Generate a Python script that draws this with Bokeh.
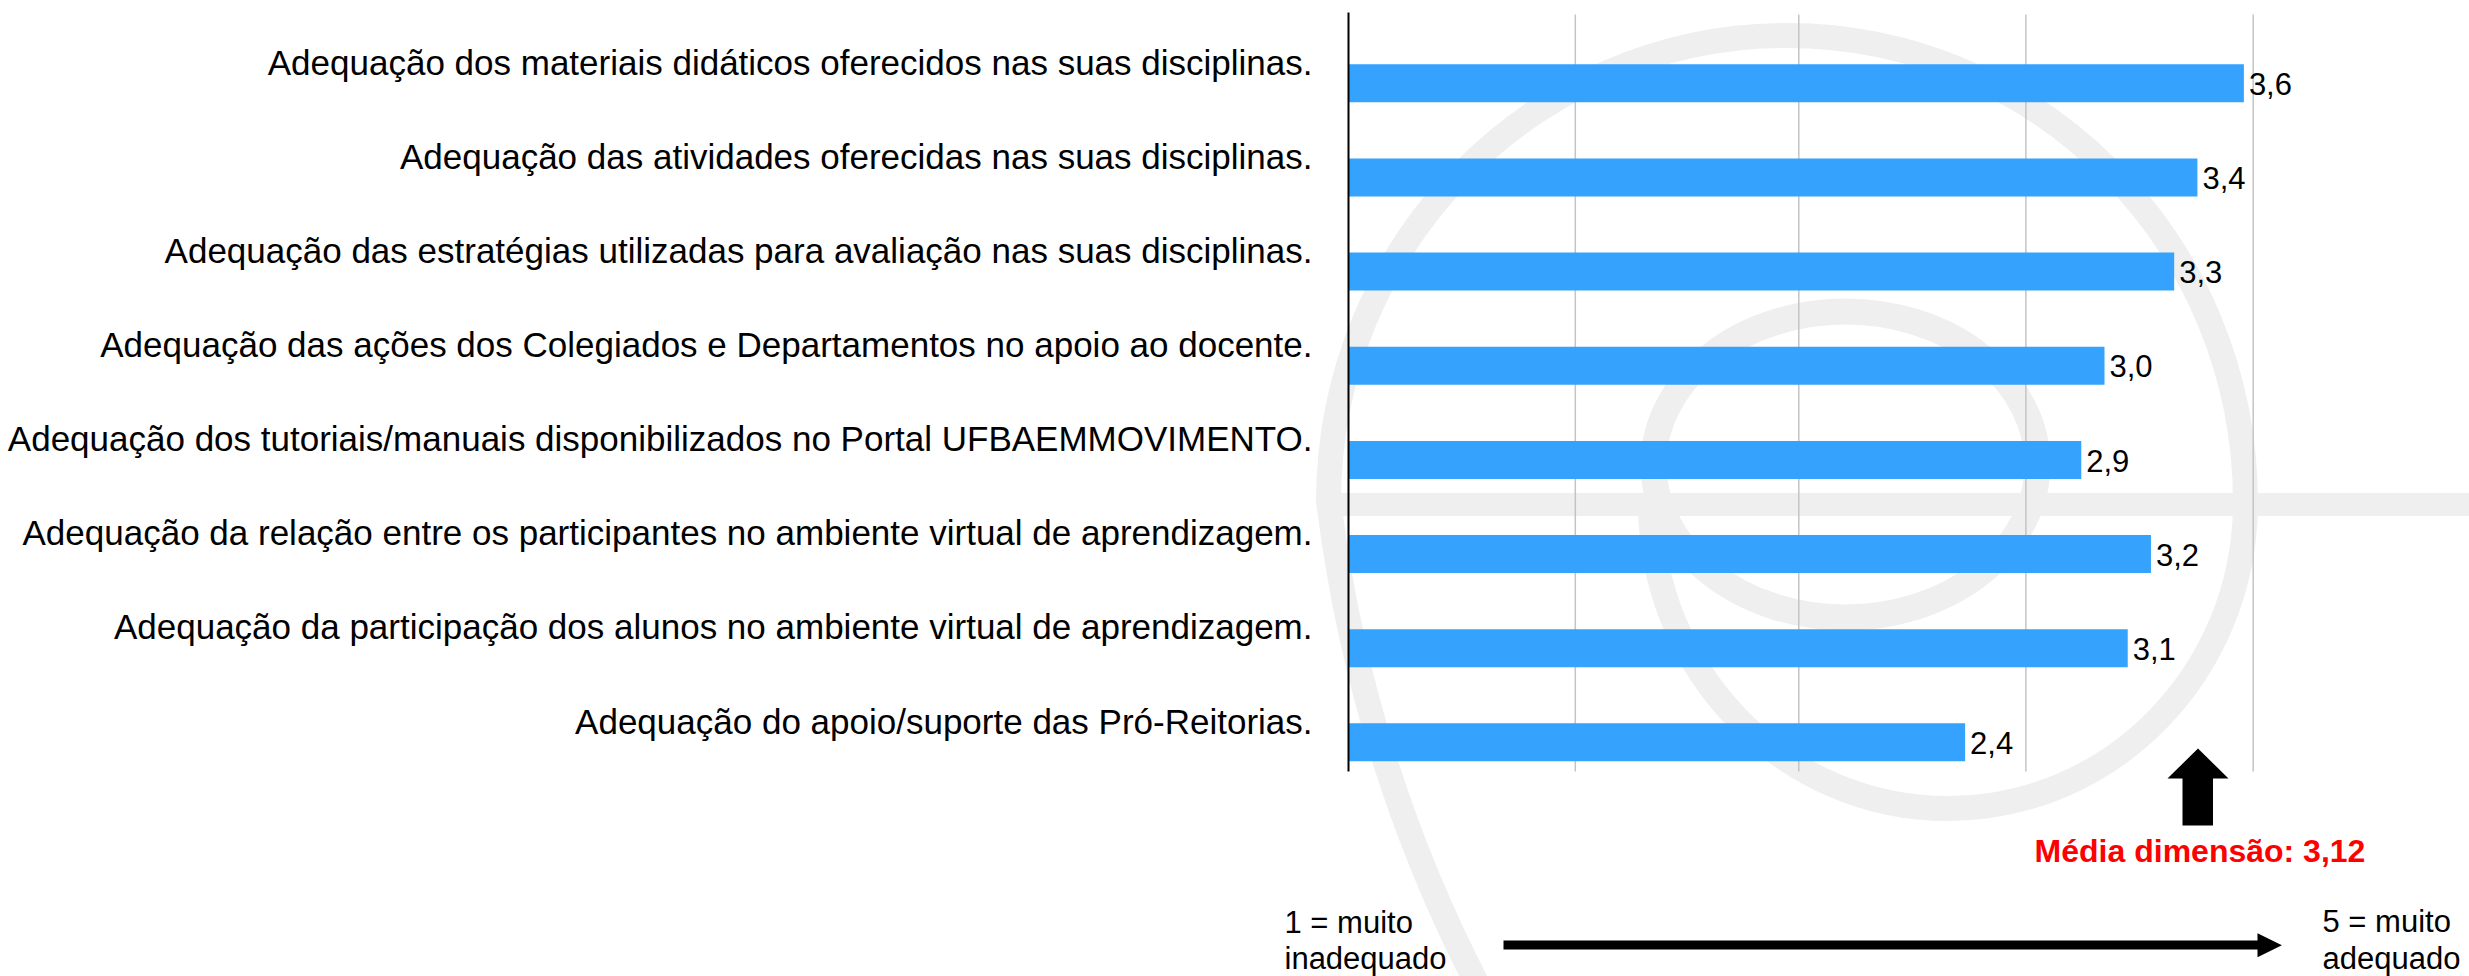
from bokeh.plotting import figure
from bokeh.models import Range1d, ColumnDataSource
from bokeh.embed import file_html
from bokeh.resources import INLINE
from bokeh.core.properties import value

# ---------------- data ----------------
categories = [
    "Adequação dos materiais didáticos oferecidos nas suas disciplinas.",
    "Adequação das atividades oferecidas nas suas disciplinas.",
    "Adequação das estratégias utilizadas para avaliação nas suas disciplinas.",
    "Adequação das ações dos Colegiados e Departamentos no apoio ao docente.",
    "Adequação dos tutoriais/manuais disponibilizados no Portal UFBAEMMOVIMENTO.",
    "Adequação da relação entre os participantes no ambiente virtual de aprendizagem.",
    "Adequação da participação dos alunos no ambiente virtual de aprendizagem.",
    "Adequação do apoio/suporte das Pró-Reitorias.",
]
scores = [3.6, 3.4, 3.3, 3.0, 2.9, 3.2, 3.1, 2.4]
score_labels = ["3,6", "3,4", "3,3", "3,0", "2,9", "3,2", "3,1", "2,4"]
mean_label = "Média dimensão: 3,12"
scale_low = ["1 = muito", "inadequado"]
scale_high = ["5 = muito", "adequado"]

# ---------------- layout (page pixels -> data) ----------------
W, H, MARGIN = 2469, 976, 0
X0_PX, PX_X = 1407.1, 232.3      # page x of value 0, px per unit
Y0_PX, PX_Y = 741.8, 94.14       # page y of last row, px per row


def X(px):
    return (px - X0_PX) / PX_X


def Y(py):
    return (Y0_PX - py) / PX_Y


def dy(size):
    # baseline correction for the text layout
    return -0.38 * size


FONT = value("Liberation Sans")
BAR_COLOR = "#35a2fe"
WM = "#efefef"
AXIS_X = X(1348)
PLOT_TOP, PLOT_BOTTOM = 12, 771
GRID_PX = [1574.8, 1798.3, 2025.4, 2252.7]

p = figure(
    width=W, height=H,
    x_range=Range1d(X(MARGIN), X(MARGIN + W)),
    y_range=Range1d(Y(MARGIN + H), Y(MARGIN)),
    output_backend="svg", toolbar_location=None,
    x_axis_location=None, y_axis_location=None,
    min_border=0, outline_line_color=None,
)
p.xgrid.visible = False
p.ygrid.visible = False
p.background_fill_color = "white"

# ---------------- watermark ----------------
K = 0.5523


def half_ellipse(cx, cy, rx, ry, upper):
    s = -1 if upper else 1
    return [
        (cx - rx, cy, cx - rx, cy + s * K * ry, cx - K * rx, cy + s * ry, cx, cy + s * ry),
        (cx, cy + s * ry, cx + K * rx, cy + s * ry, cx + rx, cy + s * K * ry, cx + rx, cy),
    ]


curves = half_ellipse(1786.5, 502, 458.5, 467, True) + half_ellipse(1947.5, 502, 297.5, 306, False)
p.bezier(
    x0=[X(c[0]) for c in curves], y0=[Y(c[1]) for c in curves],
    cx0=[X(c[2]) for c in curves], cy0=[Y(c[3]) for c in curves],
    cx1=[X(c[4]) for c in curves], cy1=[Y(c[5]) for c in curves],
    x1=[X(c[6]) for c in curves], y1=[Y(c[7]) for c in curves],
    line_color=WM, line_width=25,
)
p.ellipse(x=[X(1845)], y=[Y(464)], width=[2 * 192 / PX_X], height=[2 * 153 / PX_Y],
          fill_color=None, line_color=WM, line_width=26)
p.quadratic(x0=[X(1328)], y0=[Y(500)], cx=[X(1360)], cy=[Y(760)], x1=[X(1480)], y1=[Y(990)],
            line_color=WM, line_width=25)
p.segment(x0=[X(1320)], y0=[Y(504)], x1=[X(2475)], y1=[Y(504)], line_color=WM, line_width=23)

# ---------------- grid & axis ----------------
p.segment(x0=[X(g) for g in GRID_PX], y0=[Y(PLOT_BOTTOM)] * len(GRID_PX),
          x1=[X(g) for g in GRID_PX], y1=[Y(14)] * len(GRID_PX),
          line_color="#c4c4c4", line_width=1.5)

# ---------------- bars ----------------
n = len(categories)
ypos = [n - 1 - i for i in range(n)]
src = ColumnDataSource(dict(y=ypos, score=scores, label=score_labels, cat=categories,
                            left=[AXIS_X] * n))
p.hbar(y="y", left="left", right="score", height=38 / PX_Y, source=src,
       fill_color=BAR_COLOR, line_color=None)

p.segment(x0=[AXIS_X], y0=[Y(PLOT_BOTTOM)], x1=[AXIS_X], y1=[Y(PLOT_TOP)],
          line_color="black", line_width=2)

p.text(x="score", y="y", text="label", source=src, x_offset=5, y_offset=12.5 + dy(31),
       text_align="left", text_baseline="alphabetic", text_font=FONT,
       text_font_size="31px", text_color="black")
p.text(x="left", y="y", text="cat", source=src, x_offset=-36, y_offset=-8 + dy(35),
       text_align="right", text_baseline="alphabetic", text_font=FONT,
       text_font_size="35px", text_color="black")

# ---------------- mean marker ----------------
up_arrow = [(2182, 825), (2182, 778), (2167, 778), (2197.5, 748), (2228, 778),
            (2212.5, 778), (2212.5, 825)]
p.patch(x=[X(a) for a, b in up_arrow], y=[Y(b) for a, b in up_arrow],
        fill_color="black", line_color=None)
p.text(x=[X(2199.5)], y=[Y(862.7)], y_offset=dy(32), text=[mean_label], text_align="center",
       text_baseline="alphabetic", text_font=FONT, text_font_size="32px",
       text_font_style="bold", text_color="#ff0000")

# ---------------- scale arrow ----------------
right_arrow = [(1503, 940), (2257, 940), (2257, 932.7), (2281.4, 944.7), (2257, 956.7),
               (2257, 949), (1503, 949)]
p.patch(x=[X(a) for a, b in right_arrow], y=[Y(b) for a, b in right_arrow],
        fill_color="black", line_color=None)
p.text(x=[X(1284)] * 2, y=[Y(934), Y(970)], y_offset=dy(31), text=scale_low, text_align="left",
       text_baseline="alphabetic", text_font=FONT, text_font_size="31px", text_color="black")
p.text(x=[X(2322)] * 2, y=[Y(933), Y(970)], y_offset=dy(31), text=scale_high, text_align="left",
       text_baseline="alphabetic", text_font=FONT, text_font_size="31px", text_color="black")

open("out.html", "w").write(file_html(p, INLINE))
